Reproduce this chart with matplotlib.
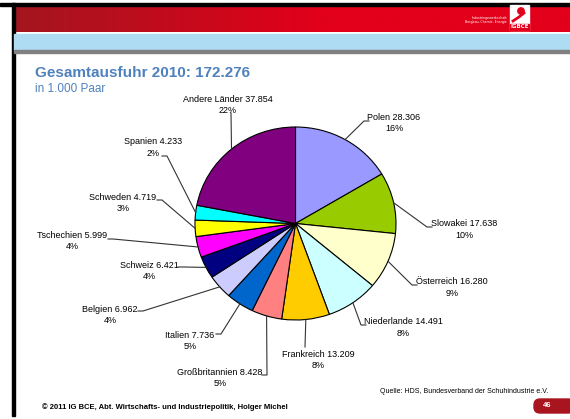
import numpy as np
import matplotlib
matplotlib.use('Agg')
import matplotlib.pyplot as plt
from matplotlib.patches import Rectangle, FancyBboxPatch
from matplotlib.colors import LinearSegmentedColormap
from matplotlib.transforms import Affine2D

# data (in 1.000 Paar), clockwise from the top
countries = ['Polen', 'Slowakei', 'Österreich', 'Niederlande', 'Frankreich',
             'Großbritannien', 'Italien', 'Belgien', 'Schweiz', 'Tschechien',
             'Schweden', 'Spanien', 'Andere Länder']
values = [28306, 17638, 16280, 14491, 13209, 8428, 7736, 6962, 6421, 5999,
          4719, 4233, 37854]
percents = ['16%', '10%', '9%', '8%', '8%', '5%', '5%', '4%', '4%', '4%',
            '3%', '2%', '22%']
colors = ['#9999FF', '#99CC00', '#FFFFCC', '#CCFFFF', '#FFCC00', '#FF8080',
          '#0066CC', '#CCCCFF', '#000080', '#FF00FF', '#FFFF00', '#00FFFF',
          '#800080']

W, H = 570, 419
BLUE = '#4F81BD'


def Y(y):
    # pixel rows are measured from the top
    return H - y


# label layout: text centre x, first line y, leader anchor x/y, elbow side
label_pos = {
    'Polen':          (394, 117, 369, 121, -1),
    'Slowakei':       (464, 224, 432, 227, -1),
    'Österreich':     (452, 282, 417, 285, -1),
    'Niederlande':    (403, 322, 366, 325, -1),
    'Frankreich':     (318, 354, 305, 347, 0),
    'Großbritannien': (220, 372, 262, 375, 1),
    'Italien':        (190, 335, 216, 334, 1),
    'Belgien':        (110, 309, 138, 311, 1),
    'Schweiz':        (149, 265, 178, 267, 1),
    'Tschechien':     (72, 235, 108, 239, 1),
    'Schweden':       (123, 197, 157, 200, 1),
    'Spanien':        (153, 142, 162, 156, 1),
    'Andere Länder':  (228, 99, 231, 113, 0),
}

fig = plt.figure(figsize=(W / 100, H / 100), dpi=100)
ax = fig.add_axes([0, 0, 1, 1])

# --- slide frame -----------------------------------------------------------
grad = np.linspace(0, 1, 256).reshape(1, -1)
reds = LinearSegmentedColormap.from_list('hdr', [(0, '#A3161F'), (0.55, '#E2001A'), (1, '#E2001A')])
ax.imshow(grad, cmap=reds, extent=(14, W, Y(32), Y(6)), aspect='auto', zorder=0)
ax.add_patch(Rectangle((0, Y(6)), W, 3, color='black', zorder=1))
ax.add_patch(Rectangle((12, Y(416)), 2.5, 413, color='black', zorder=1))
ax.add_patch(Rectangle((14, Y(50)), W - 14, 16, color='#AEDCF2', zorder=1))
ax.add_patch(Rectangle((14, Y(53)), W - 14, 3, color='#808080', zorder=1))

# logo
ax.add_patch(Rectangle((510, Y(30)), 19, 25, color='white', zorder=2))
ax.add_patch(plt.Circle((521, Y(11)), 3.2, color='#E2001A', zorder=3))
ax.plot([513, 519, 524], [Y(21), Y(17), Y(13)], color='#E2001A', lw=2, zorder=3)
ax.add_patch(Rectangle((510, Y(30)), 19, 6, color='#E2001A', zorder=3))
ax.text(519.5, Y(27), 'IGBCE', color='white', fontsize=4, fontweight='bold',
        ha='center', va='center', zorder=4)
ax.text(507, Y(20), 'Industriegewerkschaft\nBergbau, Chemie, Energie', color='white',
        fontsize=2.3, ha='right', va='center', zorder=3)

# --- titles ----------------------------------------------------------------
ax.text(35, Y(73), 'Gesamtausfuhr 2010: 172.276', color=BLUE, fontsize=11,
        fontweight='bold', family='Liberation Sans', ha='left', va='center')
ax.text(35, Y(89), 'in 1.000 Paar', color=BLUE, fontsize=8.5,
        family='Liberation Sans', ha='left', va='center')

# --- pie (slightly oval, as in the slide) ----------------------------------
cx, cy = 295.5, Y(223.5)
rx, ry = 100.5, 96.5
wedges, _ = ax.pie(values, colors=colors, startangle=90, counterclock=False,
                   center=(0, 0), radius=1,
                   wedgeprops=dict(edgecolor='black', linewidth=0.8))
oval = Affine2D().scale(rx, ry).translate(cx, cy) + ax.transData
for w in wedges:
    w.set_transform(oval)

for w, name, v, pct in zip(wedges, countries, values, percents):
    tx, ty, axx, ayy, side = label_pos[name]
    mid = np.deg2rad((w.theta1 + w.theta2) / 2)
    ex, ey = cx + rx * np.cos(mid), cy + ry * np.sin(mid)
    xs = [ex]
    ys = [ey]
    if side != 0:
        xs.append(axx + side * 5)
        ys.append(Y(ayy))
    xs.append(axx)
    ys.append(Y(ayy))
    ax.plot(xs, ys, color='#333333', lw=0.8, zorder=5)
    vtxt = f'{v:,}'.replace(',', '.')
    ax.text(tx, Y(ty), f'{name} {vtxt}', family='Liberation Sans', fontsize=6.5,
            ha='center', va='center', zorder=6)
    ax.text(tx, Y(ty + 11.5), pct, family='Liberation Sans', fontsize=6.5,
            ha='center', va='center', zorder=6)

# --- footer ----------------------------------------------------------------
ax.text(548, Y(391), 'Quelle: HDS, Bundesverband der Schuhindustrie e.V.',
        fontsize=5, family='Liberation Sans', ha='right', va='center')
ax.text(42, Y(407), '© 2011 IG BCE, Abt. Wirtschafts- und Industriepolitik, Holger Michel',
        fontsize=5.5, fontweight='bold', family='Liberation Sans', ha='left', va='center')
ax.add_patch(FancyBboxPatch((534, Y(413)), 40, 14, boxstyle='round,pad=0,rounding_size=6',
                            color='#A8151E', zorder=2))
ax.text(547, Y(405.5), '46', color='white', fontsize=5.5, fontweight='bold',
        family='Liberation Sans', ha='center', va='center', zorder=3)

ax.set_xlim(0, W)
ax.set_ylim(0, H)
ax.set_aspect('auto')
ax.axis('off')

fig.savefig('out.png', dpi=100)
